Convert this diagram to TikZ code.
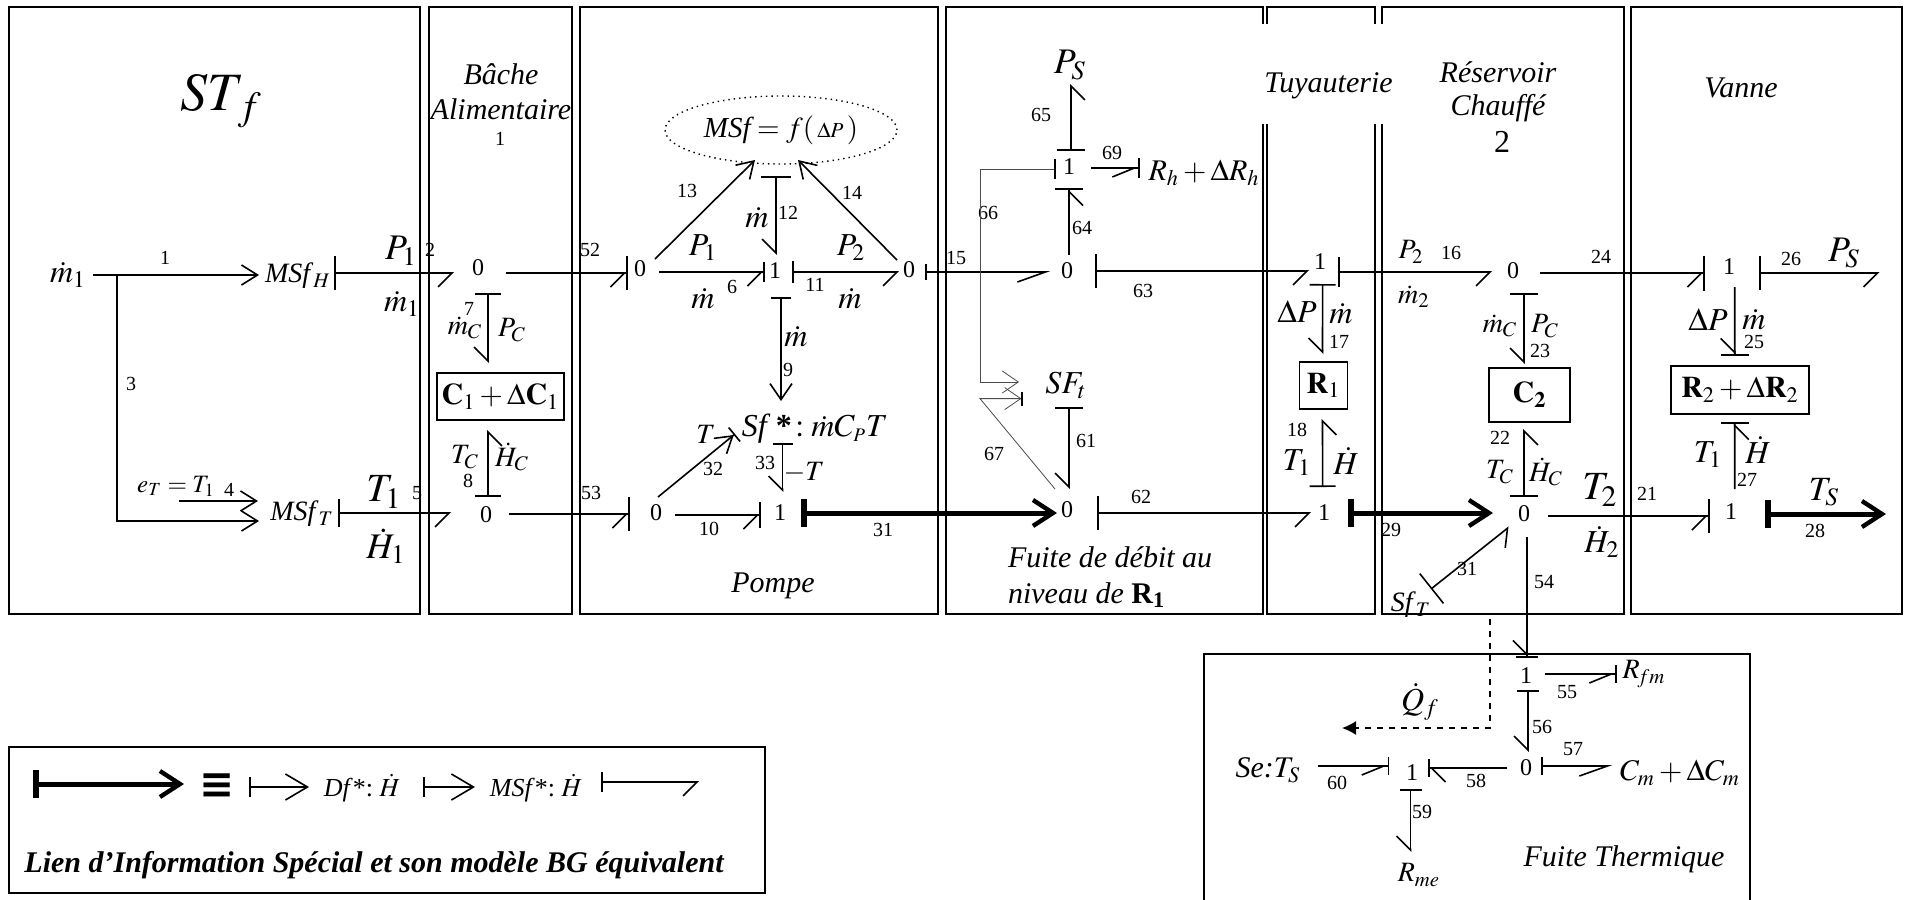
\documentclass[tikz,border=0pt]{standalone}
\usepackage{mathptmx}
\usepackage[no-math]{fontspec}
\setmainfont{Liberation Serif}
\newfontfamily\dejavu{DejaVu Sans}
\usetikzlibrary{arrows.meta,shapes.geometric}

\tikzset{
  frame/.style={line width=1pt},
  title/.style={font=\fontsize{15}{17}\selectfont\itshape},
  hug/.style={font=\fontsize{20}{22}\selectfont},
  lrg/.style={font=\fontsize{18}{20}\selectfont},
  big/.style={font=\fontsize{16}{18}\selectfont},
  mid/.style={font=\fontsize{14}{16}\selectfont},
  num/.style={font=\fontsize{10}{12}\selectfont},
  jct/.style={font=\fontsize{12}{14}\selectfont, inner sep=0pt},
  box/.style={draw, line width=0.8pt, inner sep=0pt, font=\fontsize{15}{17}\selectfont},
  line/.style={line width=0.8pt},
  bondc/.style={line, {Bar[width=#1]}-{Straight Barb[harpoon,swap,length=7pt,width=14pt]}},
  bondc/.default=17pt,
  bonde/.style={line, -{Straight Barb[harpoon,swap,length=7pt,width=14pt,sep=0pt] Bar[width=#1]}},
  bonde/.default=17pt,
  bondl/.style={line, -{Straight Barb[harpoon,length=7pt,width=14pt,sep=0pt] Bar[width=#1]}},
  flatc/.style={line, {Bar[width=#1]}-{Straight Barb[harpoon,swap,length=14pt,width=10pt]}},
  flate/.style={line, -{Straight Barb[harpoon,swap,length=11pt,width=9pt,sep=0pt] Bar[width=#1]}},
  info/.style={line, -{Straight Barb[length=8pt,width=10pt]}},
  infoc/.style={line, {Bar[width=#1]}-{Straight Barb[length=8pt,width=11pt]}},
  infol/.style={line, {Bar[width=#1]}-{Straight Barb[length=11pt,width=13pt]}},
  infoe/.style={line, -{Straight Barb[length=8pt,width=10pt,sep=0pt] Bar[width=#1]}},
  thin66/.style={line width=0.4pt, gray!60!black},
  heavy/.style={line width=2.5pt, {Bar[width=14pt,line width=3pt]}-{Straight Barb[length=10pt,width=13pt,line width=2.2pt]}},
}

\begin{document}
\begin{tikzpicture}[x=0.5pt, y=-0.5pt]
  \useasboundingbox (0,0) rectangle (1908,900);
  \fill[white] (0,0) rectangle (1908,900);
  % Frames
  \draw[frame] (9,7) rectangle (420,614);
  \draw[frame] (429,7) rectangle (572,614);
  \draw[frame] (580,7) rectangle (938,614);
  \draw[frame] (946,7) rectangle (1263,614);
  \draw[frame] (1267,7) rectangle (1375,614);
  \draw[frame] (1382,7) rectangle (1624,614);
  \draw[frame] (1631,7) rectangle (1902,614);
  \draw[frame] (1204,900) |- (1750,654) -- (1750,900);
  \draw[frame] (9,747) rectangle (765,893);
  \fill[white] (1258,24) rectangle (1388,124);
  % Titles
  \node[font=\fontsize{27}{30}\selectfont] (stf) at (221,101) {$ST_{\,f}$};
  \node[align=center, font=\fontsize{15}{17.5}\selectfont\itshape] (bache) at (501,91.5) {Bâche\\Alimentaire};
  \node[title] (tuyau) at (1328.5,86) {Tuyauterie};
  \node[align=center, font=\fontsize{15}{16.5}\selectfont\itshape] (reser) at (1498,92) {Réservoir\\Chauffé};
  \node[big] (deux) at (1502,141.6) {2};
  \node[title] (vanne) at (1741,88) {Vanne};
  \node[title] (pompe) at (773,586) {Pompe};
  \node[align=left, anchor=west, font=\fontsize{15}{18}\selectfont\itshape] (fuite) at (1001,577) {Fuite de débit au\\niveau de {\upshape\bfseries R\textsubscript{1}}};
  \node[title] (fuiteth) at (1624,859) {Fuite Thermique};
  % Bond numbers
  \foreach \px/\py/\lab [count=\i] in {165/258/1, 430/250/2, 131/384/3, 229/490/4, 417/493/5, 469/309/7,
      468/481/8, 500/139/1, 590/250/52, 591/493/53, 732/287/6, 815/285/11, 788/213/12, 687/191/13,
      852/193/14, 788/370/9, 713/469/32, 765/463/33, 709/529/10, 883/530/31, 956/258/15, 1143/291/63,
      1141/497/62, 1086/441/61, 1082/228/64, 1041/115/65, 1112/153/69, 988/213/66, 994/454/67,
      1451/253/16, 1601/257/24, 1791/259/26, 1339/342/17, 1297/430/18, 1391/530/29, 1540/351/23,
      1500/438/22, 1647/494/21, 1815/531/28, 1754/342/25, 1747/480/27, 1467/569/31, 1544/582/54,
      1567/692/55, 1542/727/56, 1573/749/57, 1476/781/58, 1422/812/59, 1337/783/60} {
    \node[num, inner sep=0pt] (num\i) at (\px,\py) {\lab};
  }
  % Source part
  \node[big] (m1) at (68,275) {$\dot m_1$};
  \node[mid] (msfh) at (298,276) {\textit{MSf}$_H$};
  \node[mid] (msft) at (302,514) {\textit{MSf}$_T$};
  \node[font=\fontsize{12.5}{15}\selectfont] (et) at (176,486) {$e_T=T_1$};
  \node[lrg] (pa1) at (401,251) {$P_1$};
  \node[big] (ma1) at (402,304) {$\dot m_1$};
  \node[hug] (ta1) at (384,492) {$T_1$};
  \node[lrg] (ha1) at (386,546) {$\dot H_1$};
  \draw[info] ([shift={(25,0)}]m1.center) -- ([shift={(-39,-1)}]msfh.center);
  \draw[info] ([shift={(49,0)}]m1.center) |- ([shift={(-43,7)}]msft.center);
  \draw[info] ([shift={(3,15)}]et.center) -- ([shift={(-44,-13)}]msft.center);
  % Feed tank
  \node[jct] (ja) at (478,268) {0};
  \node[jct] (jb) at (486,515) {0};
  \node[box, minimum width=63.5pt, minimum height=23.5pt] (c1) at (500.5,396.5) {$\mathbf{C}_1+\Delta\mathbf{C}_1$};
  \node[mid] (mc1) at (465,328) {$\dot m_C$};
  \node[mid] (pc1) at (512,330) {$P_C$};
  \node[mid] (tc1) at (465,457) {$T_C$};
  \node[mid] (hc1) at (512,457) {$\dot H_C$};
  \draw[bondc] ([shift={(36,-3)}]msfh.center) -- ([shift={(-24,5)}]ja.center);
  \draw[bondc=14pt] ([shift={(36,-1)}]msft.center) -- ([shift={(-35,-2)}]jb.center);
  \draw[bondc=13pt] ([shift={(10,25)}]ja.center) -- ([shift={(-12.5,-33.5)}]c1.center);
  \draw[bondc=13pt] ([shift={(2,-18)}]jb.center) -- ([shift={(-12.5,33.5)}]c1.center);
  % Pump
  \node[jct] (pa) at (640,269) {0};
  \node[jct] (pb) at (775,271) {1};
  \node[jct] (pc) at (909,270) {0};
  \node[jct] (pd) at (656,513) {0};
  \node[jct] (pe) at (780,513) {1};
  \node[draw, ellipse, dotted, line width=0.7pt, inner sep=0pt, minimum width=116pt, minimum height=34pt, font=\fontsize{14.5}{17}\selectfont] (ell) at (781,130) {\textit{MSf}$\,=f(\,{\scriptstyle\Delta P}\,)$};
  \node[big] (sfs) at (815,429) {\textit{Sf}\,\textbf{*}$\,:\dot mC_{\scriptscriptstyle P}T$};
  \node[mid] (tp) at (706,434) {$T$};
  \node[mid] (mt) at (804,473) {$-T$};
  \node[big] (pa2) at (703,248) {$P_1$};
  \node[big] (ma2) at (703,299) {$\dot m$};
  \node[big] (pc2) at (851,248) {$P_2$};
  \node[big] (mc2) at (850,299) {$\dot m$};
  \node[big] (mb2) at (757,218) {$\dot m$};
  \node[big] (mb3) at (796,337) {$\dot m$};
  \draw[bonde] ([shift={(28,5)}]ja.center) -- ([shift={(-12,4)}]pa.center);
  \draw[bonde] ([shift={(23,-1)}]jb.center) -- ([shift={(-26,1)}]pd.center);
  \draw[bonde=10pt] ([shift={(19,3)}]pa.center) -- ([shift={(-10,1)}]pb.center);
  \draw[bondc=11pt] ([shift={(17,1)}]pb.center) -- ([shift={(-10,2)}]pc.center);
  \draw[bondc=15pt] ([shift={(-5,46)}]ell.center) -- ([shift={(1,-16)}]pb.center);
  \draw[info] ([shift={(15,-10)}]pa.center) -- ([shift={(-26,30)}]ell.center);
  \draw[info] ([shift={(-12,-10)}]pc.center) -- ([shift={(17,30)}]ell.center);
  \draw[infoc=10pt] ([shift={(6,26)}]pb.center) -- ([shift={(-34,-28)}]sfs.center);
  \draw[infoe=9pt] ([shift={(2,-16)}]pd.center) -- ([shift={(-80,5)}]sfs.center);
  \draw[bondc=10pt] ([shift={(-32.5,14)}]sfs.center) -- ([shift={(2.5,-21)}]pe.center);
  \draw[bonde=13pt] ([shift={(19,2)}]pd.center) -- ([shift={(-19,2)}]pe.center);
  % Pipe
  \node[jct] (ta) at (1320,262) {1};
  \node[jct] (tb) at (1324,513) {1};
  \node[box, minimum width=24pt, minimum height=23.5pt] (r1) at (1323.5,385.5) {$\mathbf{R}_1$};
  \node[big] (dp1) at (1297,312) {$\Delta P$};
  \node[big] (m17) at (1341,314) {$\dot m$};
  \node[big] (t18) at (1297,463) {$T_1$};
  \node[big] (h18) at (1346,461) {$\dot H$};
  \draw[bondc=13pt] ([shift={(2.6,22)}]ta.center) -- ([shift={(-1,-31.5)}]r1.center);
  \draw[bondc=13pt] ([shift={(-1.4,-26)}]tb.center) -- ([shift={(-1,33.5)}]r1.center);
  % Leak
  \node[jct] (fa) at (1067,271) {0};
  \node[jct] (fb) at (1069,167) {1};
  \node[jct] (fc) at (1067,510) {0};
  \node[big] (sft) at (1066,385) {$SF_t$};
  \node[lrg] (ps1) at (1070,65) {$P_S$};
  \node[font=\fontsize{15}{17}\selectfont] (rh) at (1204,173) {$R_h+\Delta R_h$};
  \draw[heavy] ([shift={(21,0)}]pe.center) -- ([shift={(-10,3)}]fc.center);
  \draw[flatc=8pt] ([shift={(16,2)}]pc.center) -- ([shift={(-17,1)}]fa.center);
  \draw[bondc] ([shift={(28,0)}]fa.center) -- ([shift={(-11,9)}]ta.center);
  \draw[bondc] ([shift={(30,3)}]fc.center) -- ([shift={(-13,0)}]tb.center);
  \draw[bondc=14pt] ([shift={(3,22)}]sft.center) -- ([shift={(2,-21)}]fc.center);
  \draw[bonde=14pt] ([shift={(2,-16)}]fa.center) -- ([shift={(0,21)}]fb.center);
  \draw[bondc=14pt] ([shift={(2,-16)}]fb.center) -- ([shift={(1,19)}]ps1.center);
  \draw[flate=10pt] ([shift={(22,1)}]fb.center) -- ([shift={(-64,-5)}]rh.center);
  \draw[line, thin66, {Bar[width=10pt,line width=0.8pt,black]}-{Straight Barb[length=8pt,width=11pt]}] ([shift={(-13,2)}]fb.center) -- ++(-76,0) |- ([shift={(-47,-3)}]sft.center);
  \draw[line, thin66, -{Straight Barb[length=8pt,width=11pt,sep=0pt] Bar[width=7pt,line width=0.8pt,black]}] ([shift={(-12,-21)}]fc.center) -- ++(-75,-90.4) -- ([shift={(-43,13.6)}]sft.center);
  % Heated tank
  \node[jct] (ra) at (1513,271) {0};
  \node[jct] (rb) at (1524,514) {0};
  \node[box, minimum width=40.5pt, minimum height=27pt] (c2) at (1529.5,395) {$\mathbf{C_2}$};
  \node[mid] (mc3) at (1500,326) {$\dot m_C$};
  \node[mid] (pc3) at (1545,326) {$P_C$};
  \node[mid] (tc3) at (1500,472) {$T_C$};
  \node[mid] (hc3) at (1546,472) {$\dot H_C$};
  \node[mid] (p16) at (1411,252) {$P_2$};
  \node[mid] (m16) at (1414,297) {$\dot m_2$};
  \node[hug] (t21) at (1600,490) {$T_2$};
  \node[big] (h21) at (1602,542) {$\dot H_2$};
  \node[mid] (sftt) at (1411,605) {\textit{Sf}$_T$};
  \draw[bondc=15pt] ([shift={(18,10)}]ta.center) -- ([shift={(-21,1)}]ra.center);
  \draw[heavy] ([shift={(24,0)}]tb.center) -- ([shift={(-31,-1)}]rb.center);
  \draw[bondc=14pt] ([shift={(11,22)}]ra.center) -- ([shift={(-5.5,-31)}]c2.center);
  \draw[bondc=14pt] ([shift={(0,-17)}]rb.center) -- ([shift={(-5.5,34)}]c2.center);
  \draw[bondc=19pt] ([shift={(20,-16)}]sftt.center) -- ([shift={(-15,13)}]rb.center);
  % Valve
  \node[jct] (va) at (1729,267) {1};
  \node[jct] (vb) at (1731,512) {1};
  \node[box, minimum width=69pt, minimum height=24pt] (r2) at (1740,390) {$\mathbf{R}_2+\Delta\mathbf{R}_2$};
  \node[lrg] (ps2) at (1844,253) {$P_S$};
  \node[font=\fontsize{17}{19}\selectfont] (ts) at (1824,492) {$T_S$};
  \node[big] (dp2) at (1708,320) {$\Delta P$};
  \node[big] (m25) at (1754,320) {$\dot m$};
  \node[big] (t27) at (1708,455) {$T_1$};
  \node[big] (h27) at (1758,450) {$\dot H$};
  \draw[bonde=17.5pt] ([shift={(27,2)}]ra.center) -- ([shift={(-24,6)}]va.center);
  \draw[bondc] ([shift={(30,6)}]va.center) -- ([shift={(35.5,20)}]ps2.center);
  \draw[bonde=17pt] ([shift={(24,2)}]rb.center) -- ([shift={(-21.5,4)}]vb.center);
  \draw[heavy] ([shift={(33.5,2)}]vb.center) -- ([shift={(62,22)}]ts.center);
  \draw[bonde=14pt] ([shift={(5.7,20)}]va.center) -- ([shift={(-5.3,-34)}]r2.center);
  \draw[bonde=14pt] ([shift={(3.7,-23)}]vb.center) -- ([shift={(-5.3,32)}]r2.center);
  % Thermal leak
  \node[jct] (ma) at (1526,676) {1};
  \node[jct] (mb) at (1526,768) {0};
  \node[jct] (mc) at (1412,773) {1};
  \node[mid] (rfm) at (1644,674) {$R_{\!fm}$};
  \node[font=\fontsize{15}{17}\selectfont] (cm) at (1680,773) {$C_m+\Delta C_m$};
  \node[title] (sets) at (1268,770) {Se:$T_S$};
  \node[mid] (rme) at (1419,875) {$R_{me}$};
  \node[big] (qf) at (1420,702) {$\dot Q_f$};
  \coordinate (qa) at (1490,619);
  \coordinate (qb) at (1342,728);
  \draw[bonde=11pt] ([shift={(3,23)}]rb.center) -- ([shift={(1,-18)}]ma.center);
  \draw[flate=9pt] ([shift={(19,-2)}]ma.center) -- ([shift={(-27,0)}]rfm.center);
  \draw[bondc=11pt] ([shift={(2,14)}]ma.center) -- ([shift={(2,-16)}]mb.center);
  \draw[flatc=9pt] ([shift={(15,-2)}]mb.center) -- ([shift={(-68,-7)}]cm.center);
  \draw[bondl=9pt] ([shift={(-19,0)}]mb.center) -- ([shift={(16,-5)}]mc.center);
  \draw[flate=9pt] ([shift={(50,-4)}]sets.center) -- ([shift={(-22.6,-7)}]mc.center);
  \draw[bondc=11pt] ([shift={(-1.5,16)}]mc.center) -- ([shift={(-8.5,-23)}]rme.center);
  \draw[line, dashed, -{Latex[length=7pt,width=7pt]}] (qa) |- (qb);
  % Legend
  \node[font=\fontsize{21}{24}\selectfont\dejavu\bfseries] (eq) at (217,786) {≡};
  \node[font=\fontsize{13}{15}\selectfont] (dfs) at (362,788) {\textit{Df}*:\ $\dot H$};
  \node[font=\fontsize{13}{15}\selectfont] (msfs) at (536,788) {\textit{MSf}*:\ $\dot H$};
  \node[font=\fontsize{15}{17}\selectfont\bfseries\itshape] (lien) at (374,865) {Lien d’Information Spécial et son modèle BG équivalent};
  \coordinate (lega) at (33,784);
  \coordinate (legb) at (699,782);
  \draw[heavy] (lega) -- ([shift={(-33,-2)}]eq.center);
  \draw[infol=10pt] ([shift={(32,1)}]eq.center) -- ([shift={(-53,-1)}]dfs.center);
  \draw[infol=10pt] ([shift={(61,-1)}]dfs.center) -- ([shift={(-61,-1)}]msfs.center);
  \draw[bondc=10pt] ([shift={(65,-6)}]msfs.center) -- (legb);
\end{tikzpicture}
\end{document}
